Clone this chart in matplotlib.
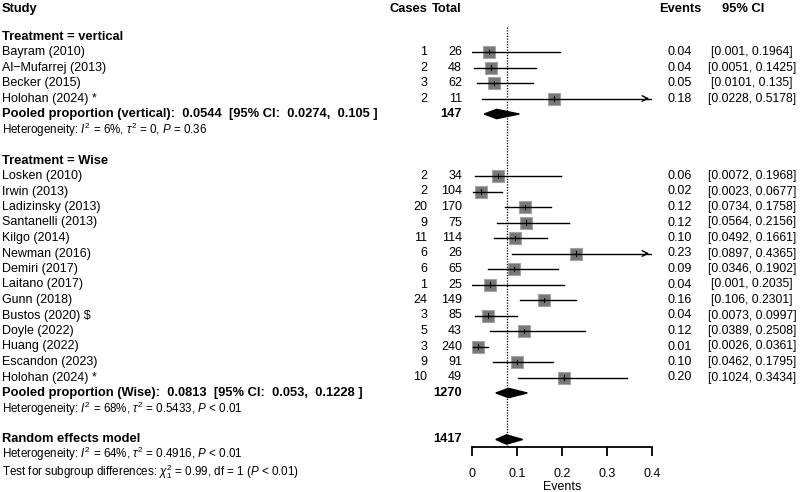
import matplotlib.pyplot as plt
from matplotlib.transforms import blended_transform_factory

plt.rcParams['font.family'] = ['Liberation Sans', 'DejaVu Sans']
plt.rcParams['mathtext.fontset'] = 'custom'
plt.rcParams['mathtext.rm'] = 'Liberation Sans'
plt.rcParams['mathtext.it'] = 'Liberation Sans:italic'
plt.rcParams['mathtext.bf'] = 'Liberation Sans:bold'

# data
studies_v = ["Bayram (2010)", "Al\u2212Mufarrej (2013)", "Becker (2015)", "Holohan (2024) *"]
cases_v = [1, 2, 3, 2]
total_v = [26, 48, 62, 11]
prop_v = [0.0385, 0.0417, 0.0484, 0.1818]
lo_v = [0.001, 0.0051, 0.0101, 0.0228]
hi_v = [0.1964, 0.1425, 0.135, 0.5178]

studies_w = ["Losken (2010)", "Irwin (2013)", "Ladizinsky (2013)", "Santanelli (2013)",
             "Kilgo (2014)", "Newman (2016)", "Demiri (2017)", "Laitano (2017)",
             "Gunn (2018)", "Bustos (2020) $", "Doyle (2022)", "Huang (2022)",
             "Escandon (2023)", "Holohan (2024) *"]
cases_w = [2, 2, 20, 9, 11, 6, 6, 1, 24, 3, 5, 3, 9, 10]
total_w = [34, 104, 170, 75, 114, 26, 65, 25, 149, 85, 43, 240, 91, 49]
prop_w = [0.0588, 0.0192, 0.1176, 0.12, 0.0965, 0.2308, 0.0923, 0.04,
          0.1611, 0.0353, 0.1163, 0.0125, 0.0989, 0.2041]
lo_w = [0.0072, 0.0023, 0.0734, 0.0564, 0.0492, 0.0897, 0.0346, 0.001,
        0.106, 0.0073, 0.0389, 0.0026, 0.0462, 0.1024]
hi_w = [0.1968, 0.0677, 0.1758, 0.2156, 0.1661, 0.4365, 0.1902, 0.2035,
        0.2301, 0.0997, 0.2508, 0.0361, 0.1795, 0.3434]

pooled_v = (0.0544, 0.0274, 0.105)
pooled_w = (0.0813, 0.053, 0.1228)
pooled_all = (0.0767, 0.053, 0.1125)
n_v, n_w, n_all = 147, 1270, 1417

W, H = 800, 492
fig = plt.figure(figsize=(W / 100, H / 100), dpi=100)

# forest panel: x = proportion, y = row number (row i sits at 36.5 + 15.5*i px)
ax = fig.add_axes([472 / W, 45 / H, 180 / W, 447 / H])
ax.set_xlim(0, 0.4)
ax.set_ylim((447 - 36.5) / 15.5, (0 - 36.5) / 15.5)
for s in ['top', 'left', 'right']:
    ax.spines[s].set_visible(False)
ax.spines['bottom'].set_linewidth(1.3)
ax.set_yticks([])
ax.set_xticks([0, 0.1, 0.2, 0.3, 0.4])
ax.set_xticklabels(['0', '0.1', '0.2', '0.3', '0.4'])
ax.tick_params(axis='x', length=6.5, width=1.3, pad=8.5, labelsize=9)
ax.set_xlabel('Events', fontsize=9, labelpad=0.5)
ax.patch.set_visible(False)

tr = blended_transform_factory(fig.transFigure, ax.transData)
FS = 9
FS_B = 9.3
FS_S = 8.4


def put(xpx, row, s, ha='left', bold=False, size=None):
    if size is None:
        size = FS_B if bold else FS
    ax.text(xpx / W, row, s, transform=tr, ha=ha, va='center', fontsize=size,
            fontweight='bold' if bold else 'normal')


def study_rows(names, cases, totals, props, los, his, start):
    for k in range(len(names)):
        r = start + k
        put(2, r, names[k])
        put(427, r, str(cases[k]), ha='right')
        put(462, r, str(totals[k]), ha='right')
        put(680, r, f"{props[k]:.2f}", ha='center')
        put(752, r, f"[{los[k]:g}, {his[k]:g}]", ha='center', size=8.7)
        ax.scatter(props[k], r, marker='s', s=72, facecolor='#777777',
                   edgecolor='#a5a5a5', linewidth=0.8, zorder=2)
        hi = min(his[k], 0.4)
        ax.plot([los[k], hi], [r, r], color='black', lw=1.0, zorder=3)
        if his[k] > 0.4:
            ax.annotate('', xy=(0.4, r), xytext=(0.38, r),
                        arrowprops=dict(arrowstyle='->', lw=1.0, color='black',
                                        mutation_scale=10), zorder=3)
        ax.plot([props[k], props[k]], [r - 0.14, r + 0.14], color='black', lw=0.8, zorder=3)


def diamond(est, lo, hi, r):
    ax.fill([lo, est, hi, est], [r, r - 0.3, r, r + 0.3], color='black', zorder=3)


# header
put(2, -1.774, 'Study', bold=True)
put(427, -1.774, 'Cases', ha='right', bold=True)
put(462, -1.774, 'Total', ha='right', bold=True)
put(680, -1.774, 'Events', ha='center', bold=True)
put(743, -1.774, '95% CI', ha='center', bold=True)

# vertical subgroup
put(2, 0, 'Treatment = vertical', bold=True)
study_rows(studies_v, cases_v, total_v, prop_v, lo_v, hi_v, 1)
put(2, 5, 'Pooled proportion (vertical):  0.0544  [95% CI:  0.0274,  0.105 ]', bold=True)
put(462, 5, str(n_v), ha='right', bold=True)
diamond(*pooled_v, 5)
put(2, 6, r'Heterogeneity: $\it{I}^{2}$ = 6%, $\tau^{2}$ = 0, $\it{P}$ = 0.36', size=FS_S)

# wise subgroup
put(2, 8, 'Treatment = Wise', bold=True)
study_rows(studies_w, cases_w, total_w, prop_w, lo_w, hi_w, 9)
put(2, 23, 'Pooled proportion (Wise):  0.0813  [95% CI:  0.053,  0.1228 ]', bold=True)
put(462, 23, str(n_w), ha='right', bold=True)
diamond(*pooled_w, 23)
put(2, 24, r'Heterogeneity: $\it{I}^{2}$ = 68%, $\tau^{2}$ = 0.5433, $\it{P}$ < 0.01', size=FS_S)

# overall
put(2, 26, 'Random effects model', bold=True)
put(462, 26, str(n_all), ha='right', bold=True)
diamond(*pooled_all, 26)
put(2, 26.95, r'Heterogeneity: $\it{I}^{2}$ = 64%, $\tau^{2}$ = 0.4916, $\it{P}$ < 0.01', size=FS_S)
put(2, 28.08, r'Test for subgroup differences: $\chi^{2}_{1}$ = 0.99, df = 1 ($\it{P}$ < 0.01)', size=FS_S)

ax.plot([pooled_all[0], pooled_all[0]], [-0.61, (447 - 36.5) / 15.5], color='black',
        lw=0.9, linestyle=(0, (1, 1.2)), zorder=1, clip_on=False)

fig.savefig('out.png', dpi=100)
